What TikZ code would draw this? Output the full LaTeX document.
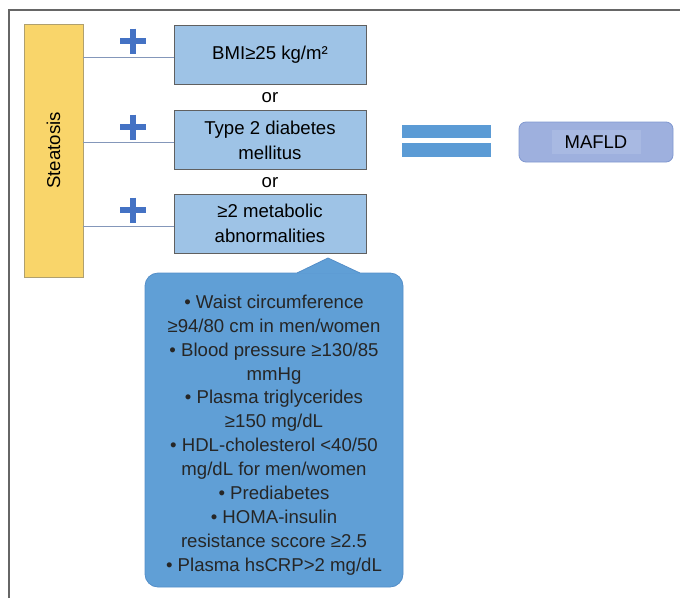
\documentclass[tikz,border=0pt]{standalone}
\usepackage{fontspec}
\setmainfont{Liberation Sans}
\usetikzlibrary{positioning,calc}
\definecolor{steatYellow}{RGB}{249,213,106}
\definecolor{steatEdge}{RGB}{176,160,110}
\definecolor{critBlue}{RGB}{158,195,230}
\definecolor{plusBlue}{RGB}{68,114,196}
\definecolor{linkBlue}{RGB}{132,151,186}
\definecolor{eqBlue}{RGB}{91,155,213}
\definecolor{mafldFill}{RGB}{158,176,222}
\definecolor{mafldEdge}{RGB}{128,152,208}
\definecolor{mafldInner}{RGB}{168,185,226}
\definecolor{calloutBlue}{RGB}{96,159,214}
\definecolor{calloutEdge}{RGB}{84,142,200}

\begin{document}
\begin{tikzpicture}[x=1pt,y=-1pt,
    bigfont/.style={font=\fontsize{18.6}{25}\selectfont},
    critbox/.style={draw=gray!75!black, fill=critBlue, bigfont, align=center,
                    minimum width=192pt, minimum height=59pt, inner sep=0pt},
    link/.style={draw=linkBlue, line width=0.9pt}]
    \useasboundingbox (0,0) rectangle (680,598);

    % frame
    \draw[line width=1.6pt, gray!80!black] (9,598) -- (9,10) -- (680,10);

    % steatosis bar
    \node[draw=steatEdge, fill=steatYellow, minimum width=59pt, minimum height=253pt,
          inner sep=0pt] (steat) at (53.5,150.5) {};
    \node[rotate=90, bigfont] (steattext) at (steat) {Steatosis};

    % criteria
    \node[critbox] (bmi) at (270,54.5) {BMI≥25 kg/m²};
    \node[bigfont] (or1) at (270,98) {or};
    \node[critbox] (dm) at (270,140) {Type 2 diabetes\\mellitus};
    \node[bigfont] (or2) at (270,183) {or};
    \node[critbox] (meta) at (270,223.5) {≥2 metabolic\\abnormalities};

    \foreach \b in {bmi,dm,meta}
        \draw[link] ($(steat.east |- \b.west)+(0,2.5)$) -- ($(\b.west)+(0,2.5)$);

    % plus signs
    \foreach \y in {41,127,210}
        \draw[plusBlue, line width=6.5pt] (120,\y) -- (146,\y) (133,\y-12.5) -- (133,\y+12.5);

    % equals
    \fill[eqBlue] (402,125) rectangle (491,138);
    \fill[eqBlue] (402,143) rectangle (491,157);

    % MAFLD
    \node[draw=mafldEdge, fill=mafldFill, rounded corners=7pt, line width=0.8pt,
          minimum width=154pt, minimum height=40pt] (mafld) at (596,142) {};
    \node[fill=mafldInner, minimum width=89pt, minimum height=24pt, inner sep=0pt,
          font=\fontsize{18.5}{22}\selectfont] (mafldtext) at (mafld) {MAFLD};

    % callout
    \draw[calloutEdge, fill=calloutBlue, line width=0.8pt, rounded corners=13pt]
        (145,273) rectangle (403,587);
    \fill[calloutBlue] (296,273.5) -- (328,258) -- (361,273.5) -- cycle;
    \draw[calloutEdge, line width=0.8pt] (297,273) -- (328,258) -- (360,273);
    \node[align=center, font=\fontsize{18.6}{23.9}\selectfont, text=black!85] (crit) at (274,435)
        {• Waist circumference\\≥94/80 cm in men/women\\• Blood pressure ≥130/85\\mmHg\\
         • Plasma triglycerides\\≥150 mg/dL\\• HDL-cholesterol <40/50\\mg/dL for men/women\\
         • Prediabetes\\• HOMA-insulin\\resistance sccore ≥2.5\\• Plasma hsCRP>2 mg/dL};
\end{tikzpicture}
\end{document}
